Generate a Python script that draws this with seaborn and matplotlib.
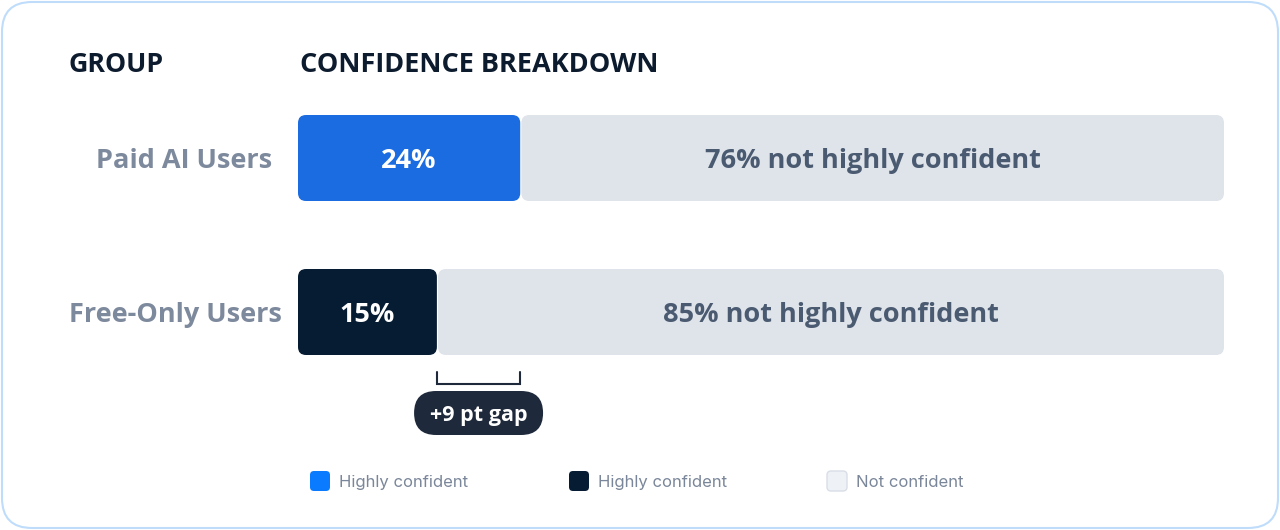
import matplotlib
matplotlib.use("Agg")
import matplotlib.pyplot as plt
from matplotlib.patches import FancyBboxPatch
import seaborn as sns

# ---- data ----
groups = ["Paid AI Users", "Free-Only Users"]
confident = [24, 15]
not_confident = [76, 85]
bar_colors = ["#1A6CE0", "#061C33"]
legend_labels = ["Highly confident", "Highly confident", "Not confident"]
legend_colors = ["#0A7BFF", "#061C33", "#EEF1F6"]
header_group = "GROUP"
header_breakdown = "CONFIDENCE BREAKDOWN"

W, H = 1280, 530
sns.set_theme(style="white")
BOLD = "Open Sans"
plt.rcParams['font.family'] = [BOLD, 'DejaVu Sans']

fig = plt.figure(figsize=(W / 100, H / 100), dpi=100)
fig.patch.set_facecolor("white")

# overlay axes in pixel coordinates
ov = fig.add_axes([0, 0, 1, 1])
ov.set_xlim(0, W)
ov.set_ylim(H, 0)
ov.axis("off")

# card border
ov.add_patch(FancyBboxPatch((2, 2), W - 4, H - 4,
                            boxstyle="round,pad=0,rounding_size=30",
                            fc="white", ec="#BFDDFB", lw=1.5, zorder=0))

# headers
ov.text(68, 62, header_group, fontsize=19.3, fontweight="bold", color="#0D1B2E",
        ha="left", va="center_baseline")
ov.text(300, 62, header_breakdown, fontsize=19.5, fontweight="bold", color="#0D1B2E",
        ha="left", va="center_baseline")

# bar axes: x 298..1224 px, y centers at 158 and 312 px (154 px per category)
px_per_unit_y = 154
top_px = 158 - px_per_unit_y / 2
bot_px = 312 + px_per_unit_y / 2
ax = fig.add_axes([298 / W, 1 - bot_px / H, 926 / W, (bot_px - top_px) / H])
ax.patch.set_alpha(0)

totals = [c + n for c, n in zip(confident, not_confident)]
bar_h = 86 / px_per_unit_y
sns.barplot(x=totals, y=groups, orient="h", color="#DFE3EA", width=bar_h,
            saturation=1, ax=ax)
sns.barplot(x=confident, y=groups, hue=groups, palette=bar_colors, orient="h",
            width=bar_h, legend=False, saturation=1, ax=ax)
ax.set_xlim(0, 100)
ax.set_ylim(1.5, -0.5)
ax.axis("off")

xppu = 926 / 100.0
aspect = (1 / px_per_unit_y) / (1 / xppu)
r = 8 / xppu
rects = list(ax.patches)
n = len(groups)
grey_rects, conf_rects = rects[:n], rects[n:]
for p in rects:
    p.set_visible(False)

for i, (g, c) in enumerate(zip(grey_rects, conf_rects)):
    y0, hh = g.get_y(), g.get_height()
    start = c.get_width() + 0.12
    ax.add_patch(FancyBboxPatch((start, y0), g.get_width() - start, hh,
                                boxstyle=f"round,pad=0,rounding_size={r}",
                                mutation_aspect=aspect, fc="#DFE3EA", ec="none", zorder=2))
    ax.add_patch(FancyBboxPatch((c.get_x(), y0), c.get_width(), hh,
                                boxstyle=f"round,pad=0,rounding_size={r}",
                                mutation_aspect=aspect, fc=c.get_facecolor(), ec="none", zorder=3))
    yc = y0 + hh / 2
    ax.text(c.get_width() / 2, yc, f"{confident[i]}%", color="white", fontsize=19.5,
            fontweight="bold", ha="center", va="center_baseline", zorder=4)
    ax.text((start + g.get_width()) / 2, yc, f"{not_confident[i]}% not highly confident",
            color="#4A5A70", fontsize=19.5, fontweight="bold", ha="center",
            va="center_baseline", zorder=4)

# group labels
label_right = [272, 282]
for i, g in enumerate(groups):
    ax.text(-(298 - label_right[i]) / xppu, i, g, color="#7D899C", fontsize=19.5,
            fontweight="bold", ha="right", va="center_baseline", clip_on=False)

# gap bracket
lo, hi = min(confident), max(confident)
yb0 = (372 - 158) / px_per_unit_y
yb1 = (384 - 158) / px_per_unit_y
ax.plot([lo, lo, hi, hi], [yb0, yb1, yb1, yb0], color="#1E293B", lw=1.5,
        clip_on=False, solid_joinstyle="miter")
# gap pill
mid = (lo + hi) / 2
yp = (413 - 158) / px_per_unit_y
pw, ph = 129 / xppu, 44 / px_per_unit_y
ax.add_patch(FancyBboxPatch((mid - pw / 2, yp - ph / 2), pw, ph,
                            boxstyle=f"round,pad=0,rounding_size={22 / xppu}",
                            mutation_aspect=aspect, fc="#1E293B", ec="none",
                            clip_on=False, zorder=3))
ax.text(mid, yp, f"+{hi - lo} pt gap", color="white", fontsize=15.5, fontweight="bold",
        ha="center", va="center_baseline", zorder=4, clip_on=False)

# legend
leg_x = [310, 569, 827]
for x, lab, col in zip(leg_x, legend_labels, legend_colors):
    ec = "#D9DEE7" if col == "#EEF1F6" else "none"
    ov.add_patch(FancyBboxPatch((x, 471), 20, 20, boxstyle="round,pad=0,rounding_size=4",
                                fc=col, ec=ec, lw=1))
    ov.text(x + 29, 481, lab, fontsize=12, color="#7A8699", ha="left",
            va="center_baseline", family=["Inter", "DejaVu Sans"])

fig.savefig("out.png", dpi=100, facecolor="white")
